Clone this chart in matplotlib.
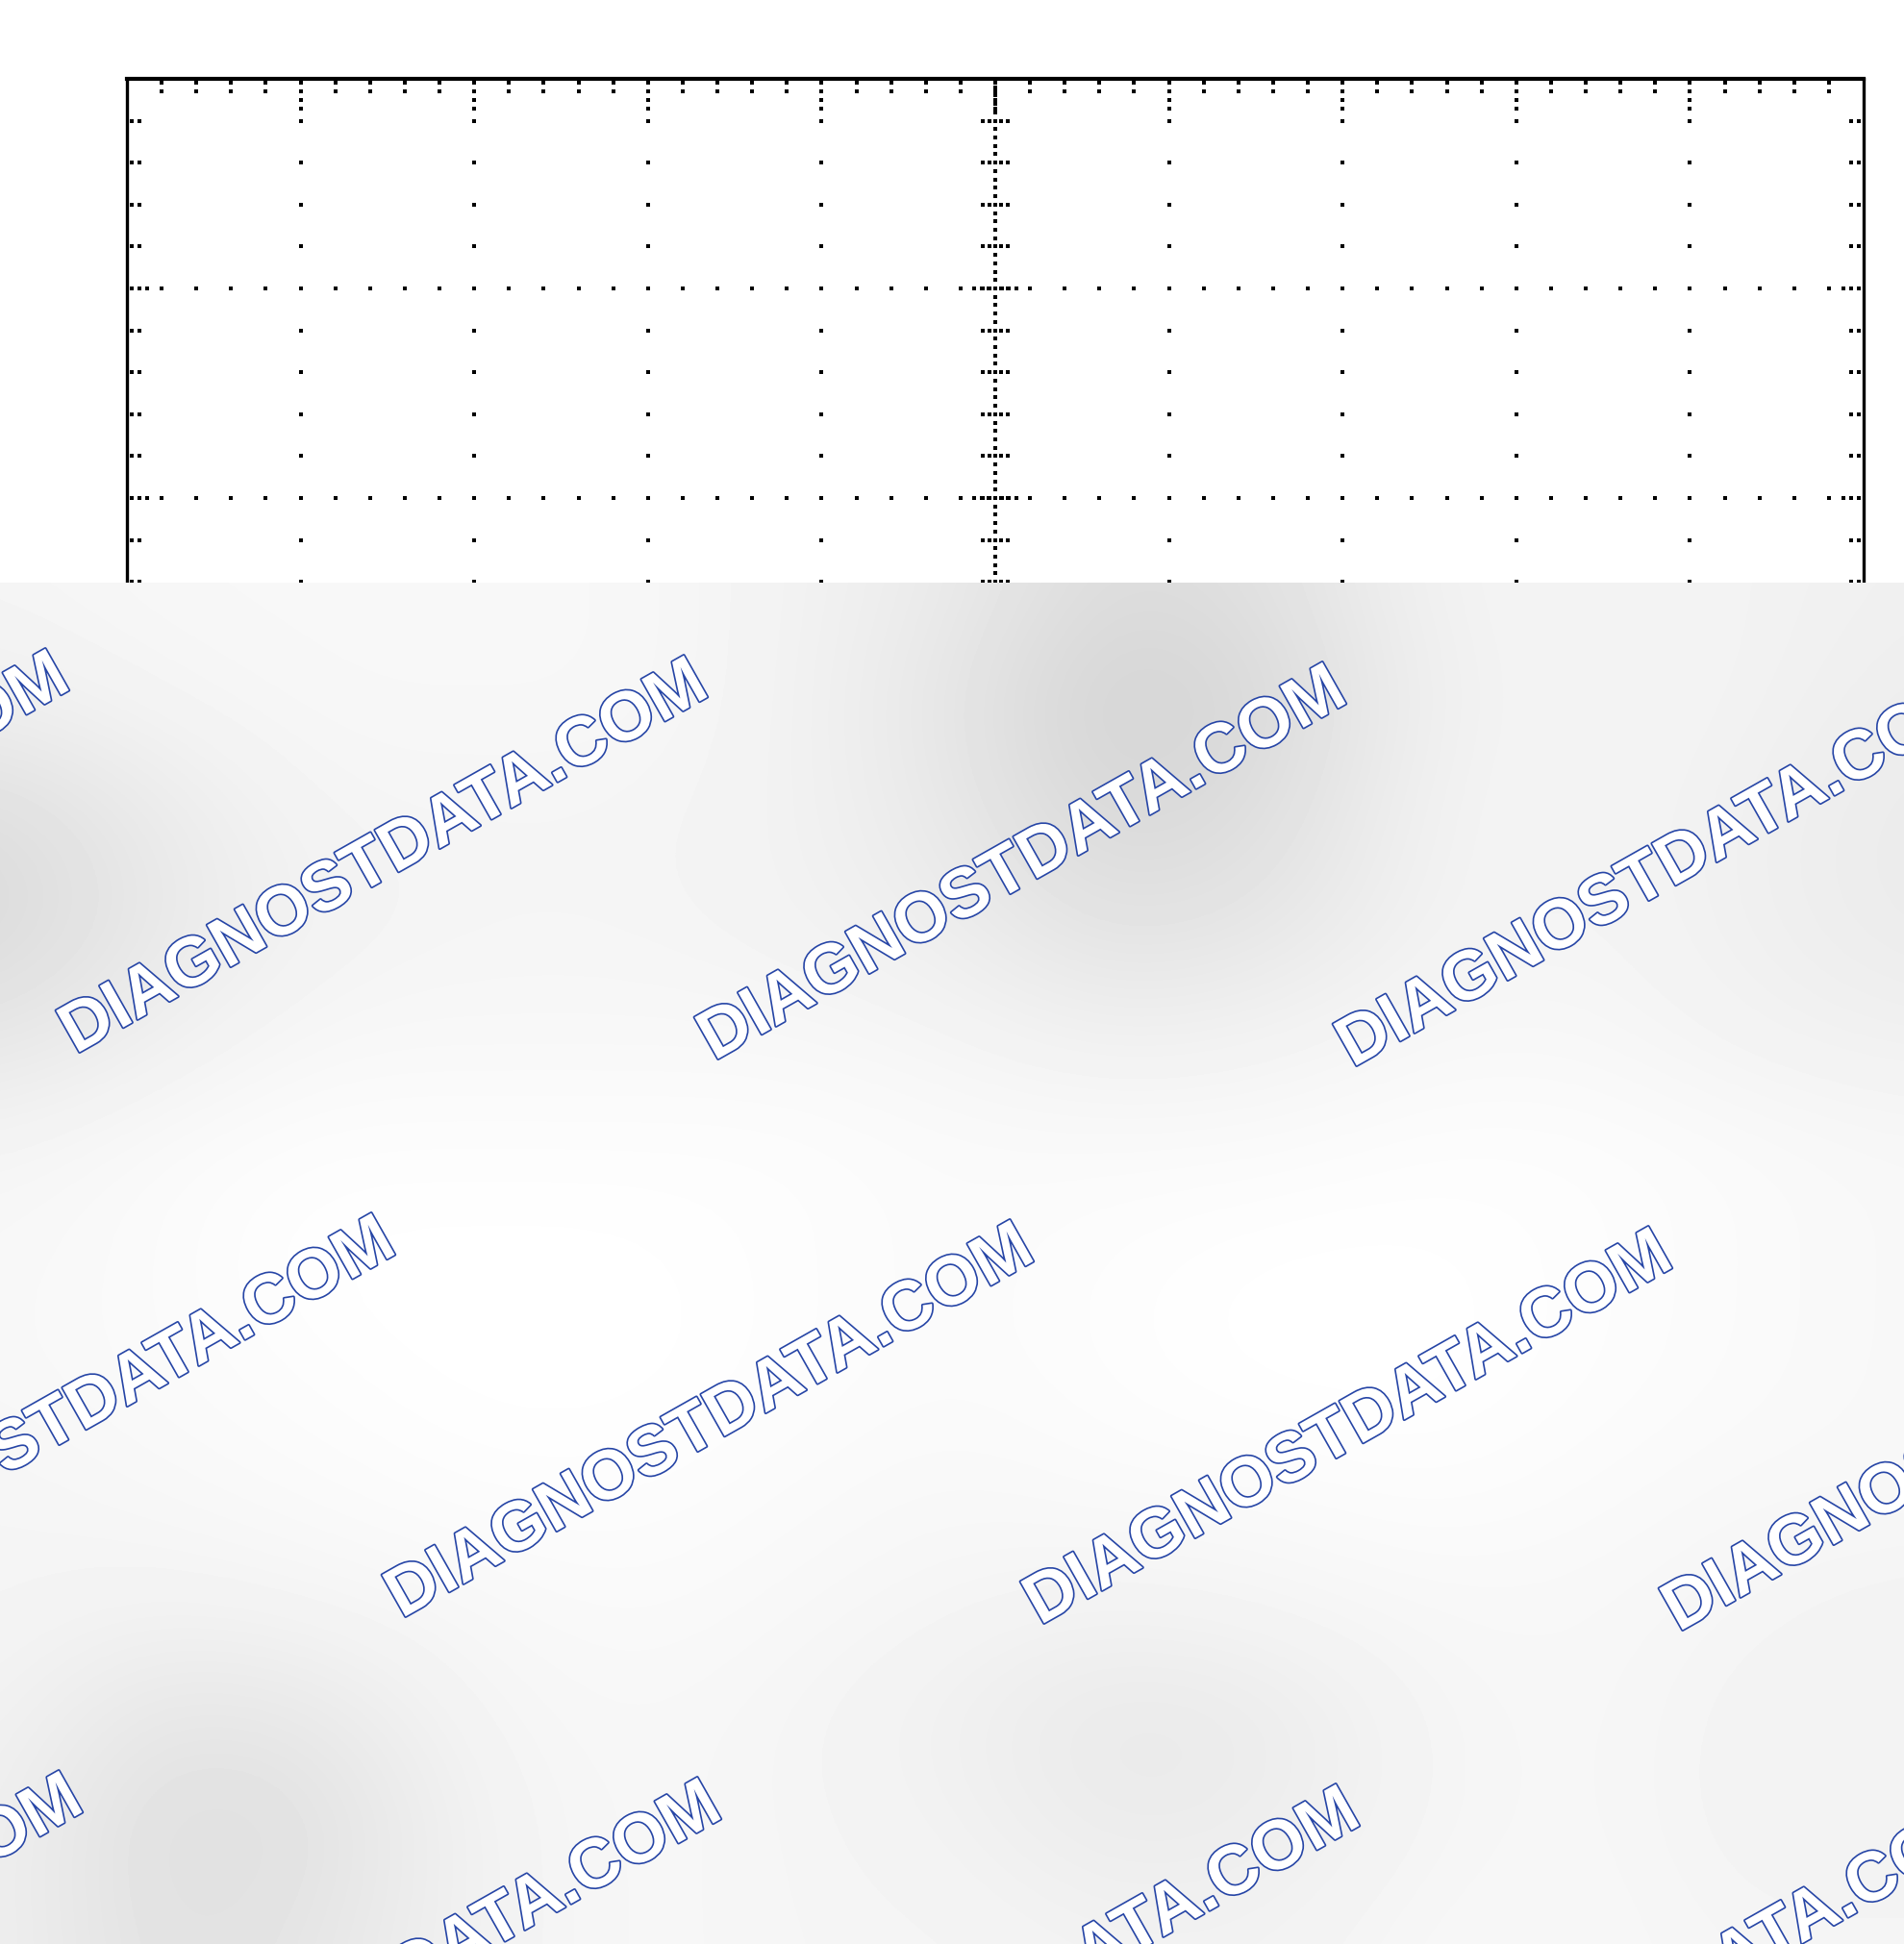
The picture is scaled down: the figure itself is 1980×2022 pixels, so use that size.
import numpy as np
import matplotlib
matplotlib.use("Agg")
import matplotlib.pyplot as plt
from matplotlib import patheffects as pe

# ---------------- data ----------------
n_xdiv = 10            # horizontal divisions of the scope graticule
n_ydiv = 8             # vertical divisions
n_sub = 5              # minor subdivisions per division
n_fine = 25            # fine dots per division on the centre axes
watermark_text = "DIAGNOSTDATA.COM"

# grey levels of the blurred cover (rows top->bottom, cols left->right)
cover_rows = [
    [0.96, 0.97, 0.97, 0.97, 0.97, 0.95, 0.92, 0.86, 0.88, 0.95, 0.96, 0.95, 0.94],
    [0.94, 0.96, 0.97, 0.97, 0.97, 0.95, 0.90, 0.82, 0.85, 0.94, 0.96, 0.95, 0.93],
    [0.87, 0.92, 0.96, 0.96, 0.96, 0.95, 0.91, 0.84, 0.87, 0.95, 0.96, 0.94, 0.92],
    [0.85, 0.91, 0.95, 0.96, 0.96, 0.95, 0.93, 0.88, 0.90, 0.95, 0.96, 0.94, 0.92],
    [0.90, 0.94, 0.97, 0.97, 0.97, 0.97, 0.96, 0.94, 0.95, 0.97, 0.97, 0.95, 0.94],
    [0.96, 0.98, 0.99, 0.99, 0.99, 0.99, 0.98, 0.98, 0.98, 0.99, 0.99, 0.98, 0.97],
    [0.97, 0.98, 1.00, 1.00, 1.00, 0.99, 0.98, 0.99, 1.00, 1.00, 0.99, 0.98, 0.97],
    [0.97, 0.98, 0.99, 1.00, 1.00, 0.99, 0.98, 0.99, 1.00, 1.00, 0.99, 0.98, 0.97],
    [0.96, 0.97, 0.98, 0.99, 0.99, 0.98, 0.97, 0.98, 0.98, 0.99, 0.98, 0.97, 0.97],
    [0.96, 0.95, 0.96, 0.97, 0.98, 0.97, 0.96, 0.95, 0.96, 0.97, 0.97, 0.96, 0.95],
    [0.95, 0.90, 0.91, 0.96, 0.97, 0.96, 0.94, 0.91, 0.92, 0.96, 0.97, 0.95, 0.95],
    [0.94, 0.87, 0.88, 0.95, 0.97, 0.96, 0.95, 0.92, 0.93, 0.96, 0.97, 0.95, 0.95],
    [0.94, 0.88, 0.90, 0.95, 0.97, 0.96, 0.96, 0.95, 0.95, 0.97, 0.97, 0.96, 0.96],
]

# ---------------- layout ----------------
W, H = 1980, 2022
L, R, T = 132, 1938, 82
DIVY = 218
B = T + n_ydiv * DIVY
COVER_TOP = 606

fig = plt.figure(figsize=(W / 100, H / 100), dpi=100)
fig.patch.set_facecolor("white")

ax = fig.add_axes([L / W, 1 - B / H, (R - L) / W, (B - T) / H])
ax.set_xlim(0, n_xdiv)
ax.set_ylim(0, n_ydiv)
ax.set_xticks([])
ax.set_yticks([])
for s in ax.spines.values():
    s.set_linewidth(2.4)
    s.set_color("black")
ax.spines["top"].set_linewidth(3.0)

step = 1.0 / n_sub
fine = 1.0 / n_fine
xs, ys = [], []
cx, cy = n_xdiv / 2, n_ydiv / 2

# dots along major vertical lines
for xm in range(1, n_xdiv):
    if xm == cx:
        pts = np.arange(1, n_ydiv * n_fine) * fine
    else:
        pts = np.arange(1, n_ydiv * n_sub) * step
    xs += [xm] * len(pts)
    ys += list(pts)
# dots along major horizontal lines
for ym in range(1, n_ydiv):
    if ym == cy:
        pts = np.arange(1, n_xdiv * n_fine) * fine
    else:
        pts = np.arange(1, n_xdiv * n_sub) * step
    xs += list(pts)
    ys += [ym] * len(pts)
    for k in (1, 2, 3):
        xs += [cx - k * 0.04, cx + k * 0.04]
        ys += [ym, ym]
# top border ticks
for k in range(1, n_xdiv * n_sub):
    x = k * step
    offs = [0.02, 0.06] + ([0.10, 0.14] if k % n_sub == 0 else [])
    for o in offs:
        xs.append(x)
        ys.append(n_ydiv - o)
# left / right border ticks and centre-axis cross ticks
for k in range(1, n_ydiv * n_sub):
    y = k * step
    offs = [0.025, 0.07] + ([0.115] if k % n_sub == 0 else [])
    for o in offs:
        xs += [o, n_xdiv - o]
        ys += [y, y]
    for o in (-0.07, -0.035, 0.035, 0.07):
        xs.append(cx + o)
        ys.append(y)

ax.plot(xs, ys, linestyle="none", marker="s", markersize=2.2,
        markeredgewidth=0, color="black")

# ---------------- blurred cover with watermarks ----------------
ov = fig.add_axes([0, 0, 1, (H - COVER_TOP) / H])
ov.set_zorder(5)
ov.set_xlim(0, W)
ov.set_ylim(H, COVER_TOP)
ov.axis("off")
field = np.array(cover_rows)
ov.imshow(field, cmap="gray", vmin=0, vmax=1, interpolation="bicubic",
          extent=(-82.5, 2062.5, 2081, 547), aspect="auto")

origin = np.array([400.0, 893.0])
va_ = np.array([664.0, 7.0])
vb_ = np.array([339.0, 587.0])
blue = "#2645a6"
for j in range(0, 3):
    for i in range(-2, 4):
        c = origin + i * va_ + j * vb_
        if c[0] < -500 or c[0] > W + 500:
            continue
        ov.text(c[0], c[1], watermark_text, rotation=29.5, rotation_mode="anchor",
                ha="center", va="center", fontsize=52, family="Liberation Sans",
                weight="bold", color="white", clip_on=True,
                path_effects=[pe.Stroke(linewidth=2.4, foreground=blue), pe.Normal()])

fig.savefig("out.png", dpi=100, facecolor="white")
